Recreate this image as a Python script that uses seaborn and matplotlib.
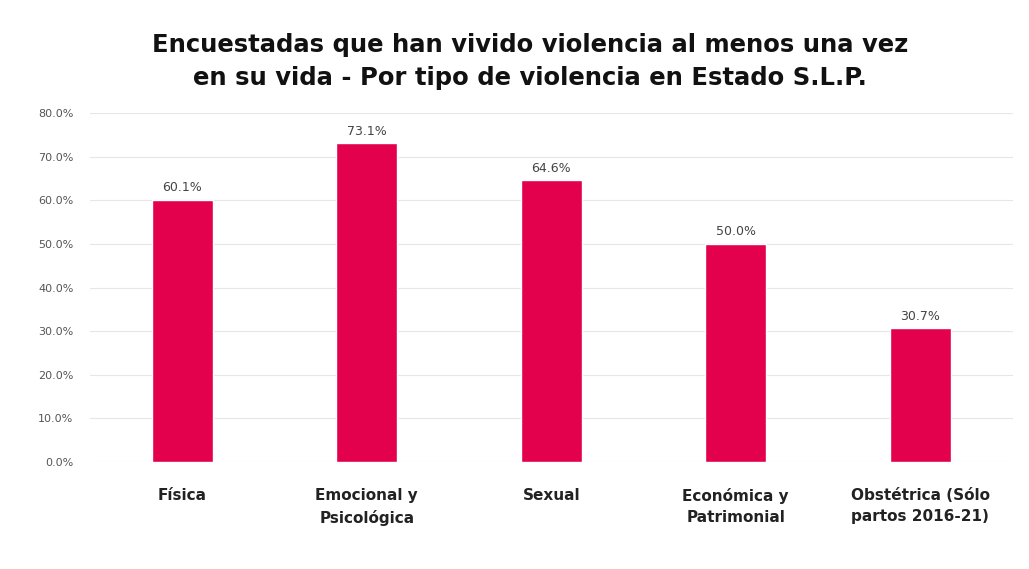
import matplotlib
matplotlib.use("Agg")
import matplotlib.pyplot as plt
import seaborn as sns
import pandas as pd

categories = ["Física", "Emocional y\nPsicológica", "Sexual", "Económica y\nPatrimonial", "Obstétrica (Sólo\npartos 2016-21)"]
values = [60.1, 73.1, 64.6, 50.0, 30.7]
yticks = [0, 10, 20, 30, 40, 50, 60, 70, 80]
title = "Encuestadas que han vivido violencia al menos una vez\nen su vida - Por tipo de violencia en Estado S.L.P."

sns.set_theme(style="whitegrid")
plt.rcParams['font.family'] = ['DejaVu Sans']

df = pd.DataFrame({"cat": categories, "val": values})

fig = plt.figure(figsize=(10.29, 5.69), dpi=100)
ax = fig.add_axes([0.0875, 0.188, 0.8965, 0.613])
sns.barplot(data=df, x="cat", y="val", color="#E3004D", saturation=1, width=0.33, ax=ax)

ax.set_ylim(0, 80)
ax.set_xlim(-0.5, 4.5)
ax.set_yticks(yticks)
ax.set_yticklabels([f"{t:.1f}%" for t in yticks], fontsize=8, color="#555555")
ax.tick_params(axis="y", pad=6)
ax.tick_params(axis="x", labelsize=11, colors="#222222", pad=13)
for lab in ax.get_xticklabels():
    lab.set_fontweight("bold")
    lab.set_linespacing(1.5)
ax.set_xlabel("")
ax.set_ylabel("")
ax.grid(axis="y", color="#e6e6e6", linewidth=0.8)
ax.grid(axis="x", visible=False)
for s in ax.spines.values():
    s.set_visible(False)

for i, v in enumerate(values):
    ax.text(i, v + 1.3, f"{v:.1f}%", ha="center", va="bottom", fontsize=9, color="#444444")

fig.text(0.515, 0.892, title, ha="center", va="center", fontsize=17.5, fontweight="bold",
         color="#111111", linespacing=1.45)
fig.savefig("out.png", dpi=100, facecolor="white")
